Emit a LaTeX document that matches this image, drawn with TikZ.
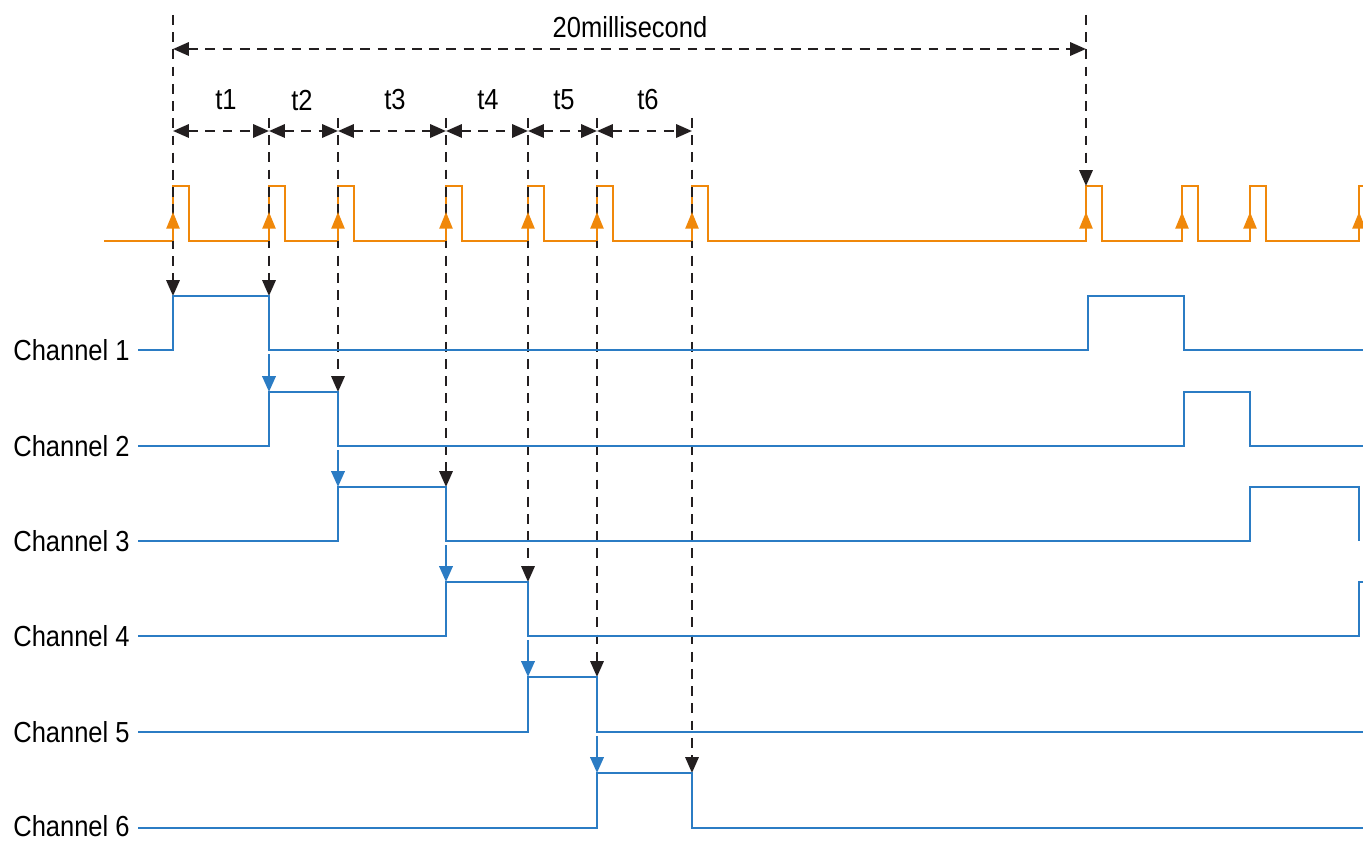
\documentclass[tikz,border=0pt]{standalone}
\usepackage{fontspec}
\setmainfont[FakeStretch=0.88]{Liberation Sans}
\usetikzlibrary{arrows.meta,calc}

\definecolor{pulseorange}{HTML}{F0880A}
\definecolor{chanblue}{HTML}{2B7CC4}
\definecolor{guideblack}{HTML}{231F20}

\begin{document}
\begin{tikzpicture}[x=0.02cm,y=-0.02cm,
    font=\fontsize{16.5}{19}\selectfont,
    tip/.style={-{Triangle[length=9pt,width=7.5pt]}},
    pulse/.style={pulseorange,line width=1.1pt},
    trig/.style={pulseorange,line width=1.1pt,-{Triangle[length=9.5pt,width=7.5pt]}},
    chan/.style={chanblue,line width=1.1pt},
    hand/.style={chanblue,line width=1.6pt,tip},
    guide/.style={guideblack,line width=1.4pt,dash pattern=on 5.6pt off 4.2pt,tip},
    span/.style={guideblack,line width=1.4pt,dash pattern=on 5.6pt off 4.2pt,
        {Triangle[length=9pt,width=7.5pt]}-{Triangle[length=9pt,width=7.5pt]}}]
    \useasboundingbox (0,0) rectangle (1363,841);

    % Pulse train
    \draw[pulse] (104,241)
        \foreach \x in {173,269,338,446,528,597,692,1086,1182,1250} {
            -- (\x,241) -- (\x,186) -- ({\x+16},186) -- ({\x+16},241) }
        -- (1359,241) -- (1359,186) -- (1363,186);

    % Period
    \coordinate (p0) at (173,49);
    \coordinate (p1) at (1086,49);
    \draw[span] (p0) -- (p1);
    \node (period) at (630,27) {20millisecond};
    \draw[guide] (173,15) -- (173,296);
    \draw[guide] (1086,15) -- (1086,186);

    % Channel slots
    \foreach \x [count=\i from 0] in {173,269,338,446,528,597,692}
        \coordinate (e\i) at (\x,131);
    \foreach \i [evaluate=\i as \j using int(\i+1)] in {0,...,5}
        \draw[span] (e\i) -- (e\j);
    \foreach \x/\t in {226/t1,302/t2,395/t3,488/t4,564/t5,648/t6}
        \node (\t) at (\x,100) {\t};
    \foreach \x/\y in {269/296,338/392,446/487,528/582,597/677,692/773}
        \draw[guide] (\x,118) -- (\x,\y);

    % Trigger edges
    \foreach \x in {173,269,338,446,528,597,692,1086,1182,1250,1359}
        \draw[trig] (\x,241) -- (\x,212);

    % Channels
    \foreach \n/\y in {1/350,2/446,3/541,4/636,5/732,6/826}
        \node[anchor=east,inner sep=0pt] (ch\n) at (130,\y) {Channel \n};
    \draw[chan] (138,350) -| (173,296) -| (269,350) -| (1088,296) -| (1184,350) -- (1363,350);
    \draw[chan] (138,446) -| (269,392) -| (338,446) -| (1184,392) -| (1250,446) -- (1363,446);
    \draw[chan] (138,541) -| (338,487) -| (446,541) -| (1250,487) -| (1359,541);
    \draw[chan] (138,636) -| (446,582) -| (528,636) -| (1359,582) -- (1363,582);
    \draw[chan] (138,732) -| (528,677) -| (597,732) -- (1363,732);
    \draw[chan] (138,828) -| (597,773) -| (692,828) -- (1363,828);

    % Hand-over
    \foreach \x/\a/\b in {269/350/392,338/446/487,446/541/582,528/636/677,597/732/773}
        \draw[hand] (\x,\a+4) -- (\x,\b);
\end{tikzpicture}
\end{document}
